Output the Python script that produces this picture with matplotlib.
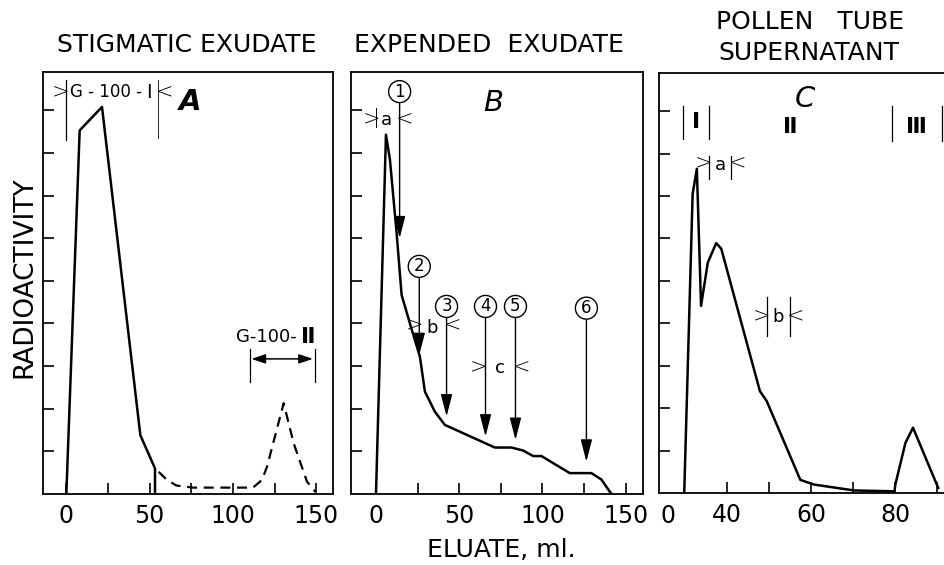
import matplotlib
matplotlib.use("Agg")
import matplotlib.pyplot as plt
from matplotlib.ticker import FixedLocator, NullFormatter
import matplotlib.transforms as mtransforms

# ---------------- data ----------------
# Panel A: stigmatic exudate
a_solid_ml = [0, 8, 21.4, 44.4, 53.2, 53.2]
a_solid_act = [0, 8.53, 9.08, 1.38, 0.60, 0]
a_dash_ml = [55.4, 60.4, 66, 76, 112, 117.4, 120.4, 130.4, 136.4, 144.4, 149.4]
a_dash_act = [0.52, 0.33, 0.20, 0.15, 0.15, 0.33, 0.64, 2.13, 1.19, 0.29, 0.05]

# Panel B: expended exudate
b_ml = [0, 6, 8.4, 12.4, 15.4, 20.4, 26.4, 29.4, 35.4, 41.4, 71.4, 81.4,
        88.4, 94.4, 99.4, 116.4, 129.4, 135.4, 141.4]
b_act = [0, 8.43, 7.84, 6.12, 4.67, 4.00, 3.22, 2.40, 1.93, 1.62, 1.09, 1.09,
         1.02, 0.89, 0.89, 0.49, 0.49, 0.34, 0]
b_arrow_labels = ["1", "2", "3", "4", "5", "6"]
b_arrow_ml = [14.2, 26, 42.4, 65.8, 83.8, 126.4]
b_arrow_label_act = [9.44, 5.34, 4.40, 4.40, 4.40, 4.36]
b_arrow_tip_act = [6.0, 3.26, 1.82, 1.35, 1.27, 0.76]

# Panel C: pollen tube supernatant
c_ml = [29.8, 31.8, 32.8, 33.8, 35.4, 37.4, 38.6, 47.8, 49.4, 57.4, 60.6,
        70.2, 79.8, 80.0, 82.4, 84.2, 90.2]
c_act = [0, 7.05, 7.64, 4.41, 5.43, 5.89, 5.76, 2.40, 2.17, 0.31, 0.20,
         0.06, 0.04, 0.20, 1.18, 1.54, 0.12]

titles_ab = ["STIGMATIC EXUDATE", "EXPENDED  EXUDATE"]
title_c = ["POLLEN   TUBE", "SUPERNATANT"]
ab_major = [0, 50, 100, 150]
ab_minor = [25, 75, 125]
c_major = [40, 60, 80]
c_minor = [50, 70, 90]
y_ticks = [1, 2, 3, 4, 5, 6, 7, 8, 9]

# ---------------- figure ----------------
W, H = 945, 565
fig = plt.figure(figsize=(W / 100, H / 100), dpi=100)
plt.rcParams["font.family"] = ["DejaVu Sans"]


def add_ax(l, t, r, b):
    return fig.add_axes([l / W, 1 - b / H, (r - l) / W, (b - t) / H])


axA = add_ax(43, 72, 333, 494)
axB = add_ax(351, 72, 643, 494)
axC = add_ax(659, 73, 950, 493)

LW_CURVE = 1.8
TICKFS = 17
TICKPAD = 7

for ax in (axA, axB, axC):
    ax.set_ylim(0, 9.9)
    ax.yaxis.set_major_locator(FixedLocator(y_ticks))
    ax.yaxis.set_major_formatter(NullFormatter())
    for sp in ax.spines.values():
        sp.set_linewidth(1.3)
    ax.tick_params(axis="both", which="both", direction="in", length=8,
                   width=1.2, top=False, right=False)
    ax.tick_params(axis="x", which="major", labelsize=TICKFS, pad=TICKPAD)

axA.set_xlim(-14, 160)
axB.set_xlim(-15, 160.4)
axC.set_xlim(23.8, 93.0)
axC.spines["right"].set_visible(False)

for ax in (axA, axB):
    ax.set_xticks(ab_major)
    ax.set_xticks(ab_minor, minor=True)
axC.set_xticks(c_major)
axC.set_xticks(c_minor, minor=True)

# curves
axA.plot(a_solid_ml, a_solid_act, color="black", lw=LW_CURVE)
axA.plot(a_dash_ml, a_dash_act, color="black", lw=1.6, ls=(0, (4.5, 3)))
axB.plot(b_ml, b_act, color="black", lw=LW_CURVE)
axC.plot(c_ml, c_act, color="black", lw=LW_CURVE)

# ---------------- annotations ----------------
TXT = 13
ROM = 16


def chev(ax, x, y, s):
    ax.text(x, y, s, ha="center", va="center", fontsize=15,
            fontweight="light")


def vbar(ax, x, y0, y1, lw=0.9):
    ax.plot([x, x], [y0, y1], color="black", lw=lw)


def roman(ax, x, y, s, fs=ROM, weight="bold"):
    ax.text(x, y, s, ha="center", va="center", fontsize=fs,
            fontweight=weight)


# Panel A
vbar(axA, 0, 8.31, 9.72)
vbar(axA, 54.8, 8.35, 9.72, lw=0.6)
chev(axA, -3.6, 9.42, ">")
axA.text(2.2, 9.42, "G - 100 -", ha="left", va="center", fontsize=12)
roman(axA, 49.6, 9.42, "\u2160", fs=14, weight="normal")
chev(axA, 59.0, 9.42, "<")
axA.text(74, 9.2, "A", ha="center", va="center", fontsize=21,
         fontweight="bold", fontstyle="italic")
axA.text(120, 3.69, "G-100-", ha="center", va="center", fontsize=TXT)
roman(axA, 145, 3.69, "\u2161")
axA.annotate("", xy=(148, 3.17), xytext=(111, 3.17),
             arrowprops=dict(arrowstyle="<|-|>,head_length=0.6,head_width=0.2",
                             lw=1.1, color="black", mutation_scale=14,
                             shrinkA=0, shrinkB=0))
vbar(axA, 110.2, 2.63, 3.40)
vbar(axA, 149.2, 2.63, 3.40)

# Panel B
axB.text(70.4, 9.17, "B", ha="center", va="center", fontsize=21,
         fontstyle="italic")
for lab, x, ly, ty in zip(b_arrow_labels, b_arrow_ml, b_arrow_label_act,
                          b_arrow_tip_act):
    axB.text(x, ly, lab, ha="center", va="center", fontsize=12,
             bbox=dict(boxstyle="circle,pad=0.12", fc="white", ec="black",
                       lw=1.0))
    axB.annotate("", xy=(x, ty), xytext=(x, ly - 0.28),
                 arrowprops=dict(arrowstyle="-|>,head_length=0.85,head_width=0.22",
                                 lw=1.0, color="black", mutation_scale=16,
                                 shrinkA=0, shrinkB=0))
# brackets a, b, c
vbar(axB, 0, 8.62, 9.05, lw=0.7)
chev(axB, -2.8, 8.80, ">")
axB.text(6.4, 8.78, "a", ha="center", va="center", fontsize=TXT)
chev(axB, 17.2, 8.80, "<")
chev(axB, 23.2, 3.95, ">")
axB.text(33.6, 3.90, "b", ha="center", va="center", fontsize=TXT)
chev(axB, 45.8, 3.95, "<")
chev(axB, 61.8, 2.97, ">")
axB.text(74.2, 2.95, "c", ha="center", va="center", fontsize=TXT)
chev(axB, 87.6, 2.97, "<")

# Panel C
axC.text(58.6, 9.29, "C", ha="center", va="center", fontsize=21,
         fontstyle="italic")
vbar(axC, 29.4, 8.35, 9.13)
vbar(axC, 35.6, 8.35, 9.13)
roman(axC, 32.5, 8.74, "\u2160")
roman(axC, 55.0, 8.62, "\u2161")
vbar(axC, 79.2, 8.30, 9.13)
vbar(axC, 91.0, 8.30, 9.13)
roman(axC, 84.9, 8.62, "\u2162")
vbar(axC, 35.6, 7.40, 7.95)
vbar(axC, 41.0, 7.40, 7.95)
chev(axC, 34.4, 7.76, ">")
axC.text(38.3, 7.74, "a", ha="center", va="center", fontsize=TXT)
chev(axC, 42.4, 7.76, "<")
vbar(axC, 49.4, 3.70, 4.61)
vbar(axC, 54.9, 3.70, 4.61)
chev(axC, 48.1, 4.17, ">")
axC.text(52.1, 4.15, "b", ha="center", va="center", fontsize=TXT)
chev(axC, 56.3, 4.17, "<")

# "0" at the left end of panel C (broken axis)
axC.text(0.0, 0.0, "0", transform=axC.transAxes + mtransforms.ScaledTranslation(
    2 / 100, -(TICKPAD + 1) / 72, fig.dpi_scale_trans),
    ha="left", va="top", fontsize=TICKFS)

# ---------------- titles and axis labels ----------------
def ftext(x, y, s, **kw):
    fig.text(x / W, 1 - y / H, s, ha="center", va="center", **kw)


ftext(187, 45, titles_ab[0], fontsize=18)
ftext(489, 45, titles_ab[1], fontsize=18)
ftext(810, 22, title_c[0], fontsize=18)
ftext(809, 53, title_c[1], fontsize=18)
ftext(501, 550, "ELUATE, ml.", fontsize=18)
ftext(24, 277, "RADIOACTIVITY", fontsize=19, rotation=90)

fig.savefig("out.png", dpi=100)
